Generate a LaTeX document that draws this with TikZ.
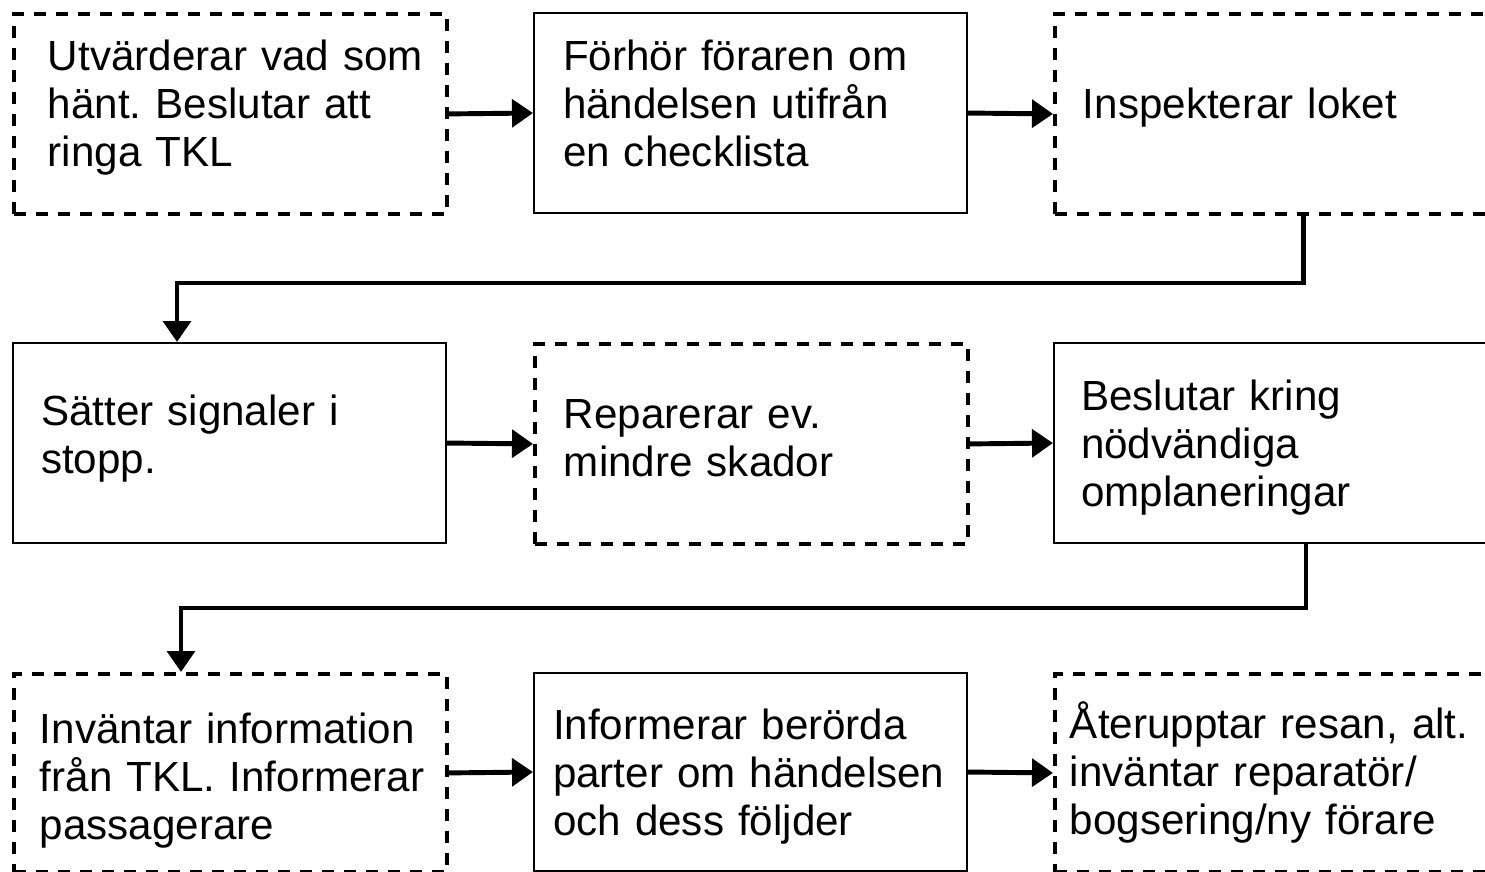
\documentclass[tikz,border=0pt]{standalone}
\usepackage{fontspec}
\setmainfont{Liberation Sans}
\usetikzlibrary{arrows.meta}
\frenchspacing

\begin{document}
\begin{tikzpicture}[x=0.02cm,y=-0.02cm,
        box/.style={rectangle, anchor=north west, inner xsep=0pt, inner ysep=0pt, minimum width=\boxW, minimum height=\boxH, text width=#1, align=left, font=\fontsize{24}{27.3}\selectfont},
        solidbox/.style={box=#1, draw, line width=1.2pt},
        dashbox/.style={box=#1, draw, line width=2.2pt, dash pattern=on 0.24cm off 0.2cm},
        conn/.style={line width=2.8pt, -{Triangle[length=0.42cm, width=0.55cm]}}]
        \def\boxW{8.66cm}
        \def\boxH{4cm}
        \def\up#1{\rule[-#1]{0pt}{0pt}}
        \def\down#1{\rule{0pt}{#1}}

        \useasboundingbox (0,0) rectangle (1485,872);
        \clip (0,0) rectangle (1485,872);

        \node[dashbox=7.3cm] (A) at (12,12) {\mbox{Utvärderar vad som}\\hänt. Beslutar att\\ringa TKL\up{0.42cm}};
        \node[solidbox=7.5cm] (B) at (533,12) {Förhör föraren om\\händelsen utifrån\\en checklista\up{0.4cm}};
        \node[dashbox=7.54cm] (C) at (1053,12) {Inspekterar loket\up{0.42cm}};

        \node[solidbox=7.54cm] (D) at (12,342) {Sätter signaler i\\stopp.\up{0.34cm}};
        \node[dashbox=7.5cm] (E) at (533,342) {Reparerar ev.\\mindre skador\up{0.22cm}};
        \node[solidbox=7.58cm] (F) at (1053,342) {\down{0.8cm}Beslutar kring\\nödvändiga\\omplaneringar};

        \node[dashbox=7.62cm, minimum height=3.96cm] (G) at (12,672) {\down{0.9cm}Inväntar information\\\mbox{från TKL. Informerar}\\passagerare};
        \node[solidbox=7.9cm, minimum height=3.96cm] (H) at (533,672) {\down{0.8cm}Informerar berörda\\parter om händelsen\\och dess följder};
        \node[dashbox=8.06cm, minimum height=3.96cm] (I) at (1053,672) {Återupptar resan, alt.\\inväntar reparatör/\\bogsering/ny förare};

        \foreach \a/\b in {A/B,B/C,D/E,E/F,G/H,H/I}
            \draw[conn] (\a.east) -- (\b.west);

        \coordinate (bendA) at (177,283);
        \coordinate (bendB) at (181,608);
        \draw[conn] ([xshift=0.65cm]C.south) |- (bendA) -- (D.north -| bendA);
        \draw[conn] ([xshift=0.71cm]F.south) |- (bendB) -- (G.north -| bendB);
    \end{tikzpicture}
\end{document}
